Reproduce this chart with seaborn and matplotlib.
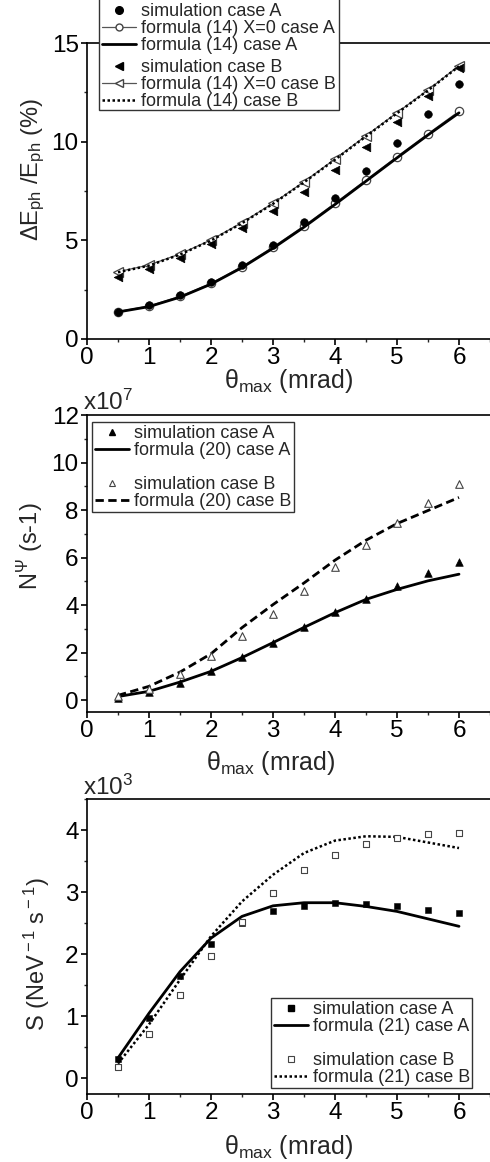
import numpy as np
import pandas as pd
import seaborn as sns
import matplotlib.pyplot as plt
from matplotlib.lines import Line2D
from matplotlib.patches import Rectangle
from matplotlib.ticker import MultipleLocator

# theta_max (mrad)
theta = [0.5, 1.0, 1.5, 2.0, 2.5, 3.0, 3.5, 4.0, 4.5, 5.0, 5.5, 6.0]

# panel 1 : dE/E (%)
sim_a_dE = [1.39, 1.72, 2.25, 2.90, 3.73, 4.76, 5.93, 7.15, 8.53, 9.95, 11.42, 12.92]
f14x0_a = [1.39, 1.67, 2.16, 2.82, 3.67, 4.66, 5.73, 6.88, 8.06, 9.24, 10.40, 11.54]
f14_a = [1.37, 1.64, 2.12, 2.78, 3.62, 4.60, 5.67, 6.82, 8.00, 9.18, 10.34, 11.46]
sim_b_dE = [3.16, 3.53, 4.12, 4.80, 5.61, 6.49, 7.47, 8.56, 9.75, 11.00, 12.33, 13.72]
f14x0_b = [3.41, 3.75, 4.31, 5.02, 5.90, 6.88, 7.97, 9.12, 10.30, 11.47, 12.62, 13.85]
f14_b = [3.38, 3.72, 4.28, 4.99, 5.87, 6.85, 7.94, 9.09, 10.27, 11.44, 12.60, 13.82]

# panel 2 : N (x10^7 s-1)
sim_a_N = [0.10, 0.34, 0.73, 1.22, 1.81, 2.42, 3.08, 3.71, 4.26, 4.80, 5.34, 5.80]
f20_a = [0.15, 0.37, 0.76, 1.21, 1.79, 2.42, 3.06, 3.68, 4.24, 4.66, 5.02, 5.30]
sim_b_N = [0.17, 0.45, 1.08, 1.84, 2.70, 3.64, 4.61, 5.59, 6.53, 7.46, 8.28, 9.08]
f20_b = [0.20, 0.58, 1.18, 1.95, 3.05, 4.02, 4.93, 5.89, 6.73, 7.43, 7.98, 8.53]

# panel 3 : S (x10^3 NeV-1 s-1)
sim_a_S = [0.31, 0.97, 1.65, 2.17, 2.50, 2.69, 2.78, 2.82, 2.81, 2.77, 2.72, 2.67]
f21_a = [0.33, 1.05, 1.72, 2.26, 2.61, 2.78, 2.83, 2.83, 2.77, 2.69, 2.57, 2.45]
sim_b_S = [0.18, 0.71, 1.34, 1.98, 2.52, 2.99, 3.35, 3.60, 3.78, 3.88, 3.93, 3.95]
f21_b = [0.24, 0.87, 1.59, 2.29, 2.85, 3.28, 3.63, 3.83, 3.90, 3.89, 3.80, 3.71]

sns.set_style('ticks')
plt.rcParams['font.family'] = ['Liberation Sans', 'DejaVu Sans']
plt.rcParams['mathtext.fontset'] = 'custom'
plt.rcParams['mathtext.rm'] = 'Liberation Sans'
plt.rcParams['mathtext.it'] = 'Liberation Sans:italic'
plt.rcParams['mathtext.bf'] = 'Liberation Sans:bold'

W, H = 490, 1162
fig = plt.figure(figsize=(W / 100, H / 100), dpi=100)

TICK_FS = 17.5
LAB_FS = 18
LEG_FS = 13


def px_axes(top, bottom, left=87, right=490):
    return fig.add_axes([left / W, 1 - bottom / H, (right - left) / W, (bottom - top) / H])


def style_axes(ax, ylim, ymaj, ymin):
    ax.set_xlim(0, 6.5)
    ax.set_ylim(*ylim)
    ax.xaxis.set_major_locator(MultipleLocator(1))
    ax.xaxis.set_minor_locator(MultipleLocator(0.5))
    ax.yaxis.set_major_locator(MultipleLocator(ymaj))
    ax.yaxis.set_minor_locator(MultipleLocator(ymin))
    ax.tick_params(which='major', direction='out', length=4, width=1.2, labelsize=TICK_FS, pad=2, colors='k')
    ax.tick_params(which='minor', direction='out', length=2.5, width=1.0)
    ax.spines['right'].set_visible(False)
    for s in ['left', 'bottom', 'top']:
        ax.spines[s].set_linewidth(1.2)
        ax.spines[s].set_color('k')
    ax.grid(False)


def set_labels(ax, xl, yl, xpos, ypos):
    ax.set_xlabel(xl, fontsize=LAB_FS)
    ax.set_ylabel(yl, fontsize=LAB_FS - 1)
    ax.xaxis.label.set_va('center')
    ax.yaxis.label.set_va('center')
    ax.xaxis.set_label_coords(*xpos)
    ax.yaxis.set_label_coords(*ypos)


def make_legend(handles, labels, x, y, frame=True):
    leg = fig.legend(handles, labels, loc='upper left', bbox_to_anchor=(x / W, 1 - y / H),
                     bbox_transform=fig.transFigure, borderaxespad=0, frameon=frame,
                     fancybox=False, framealpha=1, edgecolor='#333333', fontsize=LEG_FS,
                     labelspacing=0.0, handlelength=1.9, handleheight=0.3, handletextpad=0.25,
                     borderpad=0.15)
    leg.get_frame().set_linewidth(1.0)
    return leg


blank = Line2D([], [], linestyle='none')
xlab = r'θ$_{\rm max}$ (mrad)'

# ---------- panel 1
ax1 = px_axes(43, 339)
style_axes(ax1, (0, 15), 5, 2.5)
sns.lineplot(x=theta, y=f14x0_a, ax=ax1, color='#555555', linewidth=0.9, marker='o', markersize=6,
             markerfacecolor='white', markeredgecolor='#444444', markeredgewidth=0.9)
sns.lineplot(x=theta, y=f14_a, ax=ax1, color='k', linewidth=2.0)
sns.lineplot(x=theta, y=f14x0_b, ax=ax1, color='#555555', linewidth=0.9, marker='<', markersize=6.5,
             markerfacecolor='white', markeredgecolor='#444444', markeredgewidth=0.9)
sns.lineplot(x=theta, y=f14_b, ax=ax1, color='k', linewidth=1.8, linestyle=(0, (1, 1)))
sns.scatterplot(x=theta, y=sim_a_dE, ax=ax1, marker='o', s=30, color='k', edgecolor='k', zorder=5)
sns.scatterplot(x=theta, y=sim_b_dE, ax=ax1, marker='<', s=38, color='k', edgecolor='k', zorder=5)
set_labels(ax1, xlab, r'$\Delta$E$_{\rm ph}$ /E$_{\rm ph}$ (%)', (0.5, -0.142), (-0.134, 0.571))

# legend frame drawn once around two stacked legends
fig.patches.append(Rectangle((99 / W, 1 - 110 / H), 240 / W, 112 / H, transform=fig.transFigure,
                             facecolor='white', edgecolor='#333333', linewidth=1.0, zorder=4))
h1a = [Line2D([], [], marker='o', color='k', linestyle='none', markersize=5.5),
       Line2D([], [], marker='o', color='#555555', linewidth=0.9, markerfacecolor='white',
              markeredgecolor='#444444', markersize=5),
       Line2D([], [], color='k', linewidth=2.0)]
l1a = ['simulation case A', 'formula (14) X=0 case A', 'formula (14) case A']
make_legend(h1a, l1a, 99, 0, frame=False).set_zorder(6)
h1b = [Line2D([], [], marker='<', color='k', linestyle='none', markersize=6),
       Line2D([], [], marker='<', color='#555555', linewidth=0.9, markerfacecolor='white',
              markeredgecolor='#444444', markersize=5.5),
       Line2D([], [], color='k', linewidth=1.8, linestyle=(0, (1, 1)))]
l1b = ['simulation case B', 'formula (14) X=0 case B', 'formula (14) case B']
make_legend(h1b, l1b, 99, 56, frame=False).set_zorder(6)

# ---------- panel 2
ax2 = px_axes(415, 712)
style_axes(ax2, (-0.5, 12), 2, 1)
sns.lineplot(x=theta, y=f20_a, ax=ax2, color='k', linewidth=2.0)
sns.lineplot(x=theta, y=f20_b, ax=ax2, color='k', linewidth=2.0, linestyle=(0, (3, 1.6)))
sns.scatterplot(x=theta, y=sim_a_N, ax=ax2, marker='^', s=30, color='k', edgecolor='k', zorder=5)
sns.scatterplot(x=theta, y=sim_b_N, ax=ax2, marker='^', s=30, color='white', edgecolor='#444444',
                linewidth=0.8, zorder=5)
set_labels(ax2, xlab, r'N$^{\Psi}$ (s-1)', (0.456, -0.172), (-0.141, 0.559))
fig.text(83 / W, 1 - 410 / H, r'x10$^{7}$', fontsize=TICK_FS, va='baseline', ha='left')

h2 = [Line2D([], [], marker='^', color='k', linestyle='none', markersize=5),
      Line2D([], [], color='k', linewidth=2.0),
      blank,
      Line2D([], [], marker='^', color='#444444', markerfacecolor='white', linestyle='none',
             markersize=5, markeredgewidth=0.8),
      Line2D([], [], color='k', linewidth=2.0, linestyle=(0, (3, 1.6)))]
l2 = ['simulation case A', 'formula (20) case A', ' ', 'simulation case B', 'formula (20) case B']
make_legend(h2, l2, 92, 422)

# ---------- panel 3
ax3 = px_axes(799, 1094)
style_axes(ax3, (-0.25, 4.5), 1, 0.5)
sns.lineplot(x=theta, y=f21_a, ax=ax3, color='k', linewidth=2.0)
sns.lineplot(x=theta, y=f21_b, ax=ax3, color='k', linewidth=1.8, linestyle=(0, (1, 1)))
sns.scatterplot(x=theta, y=sim_a_S, ax=ax3, marker='s', s=22, color='k', edgecolor='k', zorder=5)
sns.scatterplot(x=theta, y=sim_b_S, ax=ax3, marker='s', s=22, color='white', edgecolor='#444444',
                linewidth=0.8, zorder=5)
set_labels(ax3, xlab, r'S (NeV$^{\rm -1}$ s$^{\rm -1}$)', (0.5, -0.18), (-0.124, 0.475))
fig.text(83 / W, 1 - 795 / H, r'x10$^{3}$', fontsize=TICK_FS, va='baseline', ha='left')

h3 = [Line2D([], [], marker='s', color='k', linestyle='none', markersize=4.5),
      Line2D([], [], color='k', linewidth=2.0),
      blank,
      Line2D([], [], marker='s', color='#444444', markerfacecolor='white', linestyle='none',
             markersize=4.5, markeredgewidth=0.8),
      Line2D([], [], color='k', linewidth=1.8, linestyle=(0, (1, 1)))]
l3 = ['simulation case A', 'formula (21) case A', ' ', 'simulation case B', 'formula (21) case B']
make_legend(h3, l3, 271, 998)

fig.savefig('out.png', dpi=100)
